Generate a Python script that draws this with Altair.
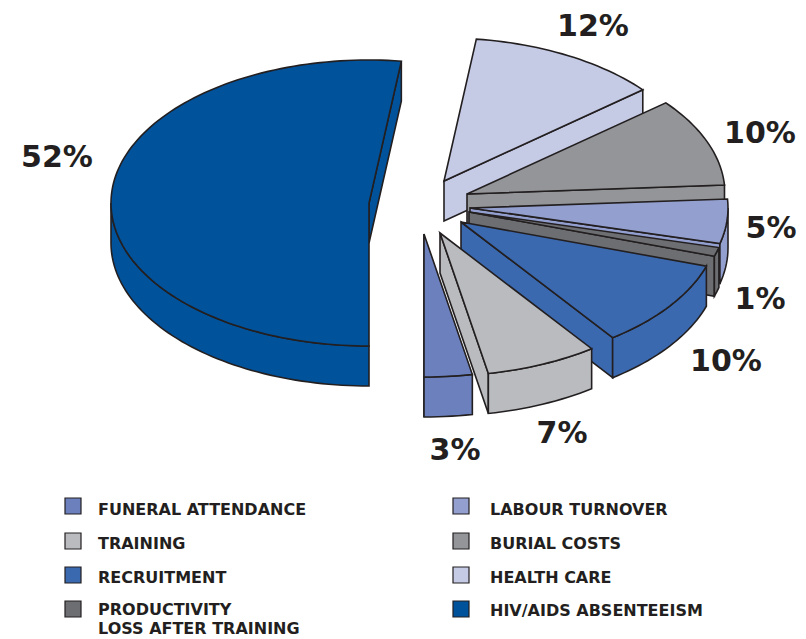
import math
import altair as alt
import pandas as pd

# Slices, clockwise from the bottom of the pie
categories = ["HIV/AIDS absenteeism", "Health care", "Burial costs", "Labour turnover",
              "Productivity loss after training", "Recruitment", "Training", "Funeral attendance"]
values = [52, 12, 10, 5, 1, 10, 7, 3]
colors = ["#00529b", "#c5cae5", "#939598", "#939fcf", "#6d6e71", "#3b69b0", "#b9bbbe", "#6b80bd"]

# Layout, in pixels of the page
apex_x = [369, 444, 467, 470, 469, 461, 440, 424]
apex_y = [203, 181, 194, 208, 212, 222, 233, 234]
RX, RY, DEPTH = 258, 143, 40
pct_x = [57, 593, 760, 771, 760, 726, 562, 455]
pct_y = [167, 36, 143, 238, 309, 371, 443, 460]

legend_rows = [
    ("Funeral attendance", 73, 506, 98, 515, "#6b80bd"),
    ("Training", 73, 541, 98, 549, "#b9bbbe"),
    ("Recruitment", 73, 575, 98, 583, "#3b69b0"),
    ("Productivity", 73, 609, 98, 615, "#6d6e71"),
    ("Labour turnover", 461, 506, 490, 515, "#939fcf"),
    ("Burial costs", 461, 541, 490, 549, "#939598"),
    ("Health care", 461, 575, 490, 583, "#c5cae5"),
    ("HIV/AIDS absenteeism", 461, 609, 490, 616, "#00529b"),
]
legend_extra = [("loss after training", 98, 634)]

INK = "#231f20"
xs = alt.Scale(domain=[8, 798], range=[0, 790], nice=False, zero=False)
ys = alt.Scale(domain=[8, 639], range=[0, 631], nice=False, zero=False)


def poly(pts, color):
    df = pd.DataFrame({"x": [p[0] for p in pts], "y": [p[1] for p in pts], "i": range(len(pts))})
    return alt.Chart(df).mark_line(
        interpolate="linear-closed", fill=color, stroke=INK, strokeWidth=1.6, strokeJoin="miter"
    ).encode(
        x=alt.X("x:Q", scale=xs, axis=None),
        y=alt.Y("y:Q", scale=ys, axis=None),
        order="i:Q",
    )


def arc(cx, cy, a0, a1, dy=0):
    n = max(2, int((a1 - a0) / 1.5))
    return [(cx + RX * math.cos(math.radians(a0 + (a1 - a0) * k / n)),
             cy + RY * math.sin(math.radians(a0 + (a1 - a0) * k / n)) + dy) for k in range(n + 1)]


layers = []
start = 90.0
for cat, v, c, ax, ay in zip(categories, values, colors, apex_x, apex_y):
    end = start + v * 3.6
    top = arc(ax, ay, start, end)
    ex, ey = top[-1]
    # radial wall at the slice's far edge
    layers.append(poly([(ax, ay), (ex, ey), (ex, ey + DEPTH), (ax, ay + DEPTH)], c))
    # outer wall, only where it faces the viewer
    for lo, hi in ((0, 180), (360, 540)):
        a, b = max(start, lo), min(end, hi)
        if b > a:
            layers.append(poly(arc(ax, ay, a, b) + arc(ax, ay, a, b, DEPTH)[::-1], c))
    # top face
    layers.append(poly([(ax, ay)] + top, c))
    start = end

pct_df = pd.DataFrame({"t": [f"{v}%" for v in values], "x": pct_x, "y": pct_y})
layers.append(alt.Chart(pct_df).mark_text(
    font="DejaVu Sans", fontWeight="bold", fontSize=30, align="center", baseline="alphabetic", color=INK
).encode(x=alt.X("x:Q", scale=xs, axis=None), y=alt.Y("y:Q", scale=ys, axis=None), text="t:N"))

leg = pd.DataFrame(legend_rows, columns=["t", "sx", "sy", "tx", "ty", "c"])
layers.append(alt.Chart(leg).mark_square(size=256, stroke=INK, strokeWidth=1.2, opacity=1).encode(
    x=alt.X("sx:Q", scale=xs, axis=None), y=alt.Y("sy:Q", scale=ys, axis=None),
    fill=alt.Fill("c:N", scale=None)))
txt = pd.concat([leg[["t", "tx", "ty"]],
                 pd.DataFrame(legend_extra, columns=["t", "tx", "ty"])], ignore_index=True)
txt["u"] = txt["t"].str.upper()
layers.append(alt.Chart(txt).mark_text(
    font="DejaVu Sans", fontWeight="bold", fontSize=16, align="left", baseline="alphabetic", color=INK
).encode(x=alt.X("tx:Q", scale=xs, axis=None), y=alt.Y("ty:Q", scale=ys, axis=None), text="u:N"))

chart = alt.layer(*layers).properties(
    width=790, height=631, padding=0, autosize=alt.AutoSizeParams(type="none")
).configure_view(stroke=None)
chart.save("out.html", embed_options={"renderer": "svg", "actions": False})
